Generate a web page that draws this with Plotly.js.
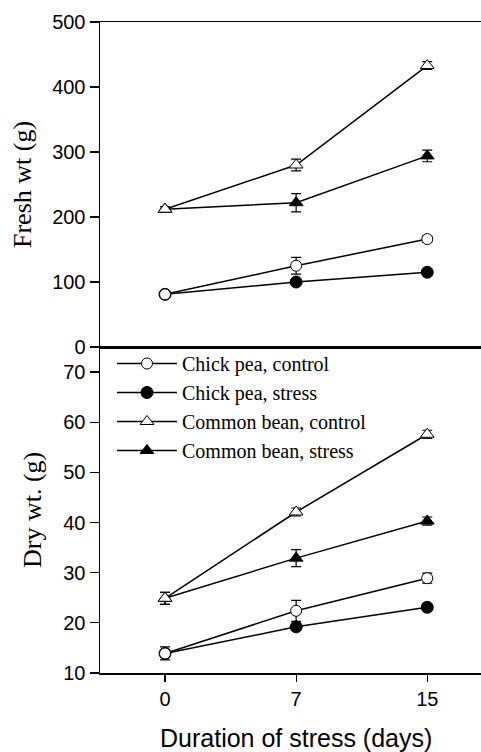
<!DOCTYPE html>
<html><head><meta charset="utf-8">
<script src="https://cdn.plot.ly/plotly-3.0.1.min.js"></script>
<style>html,body{margin:0;padding:0;background:#fff}</style>
</head><body>
<div id="chart" style="width:481px;height:752px"></div>
<script>
var days = ['0', '7', '15'];
var seriesNames = ['Chick pea, control', 'Chick pea, stress', 'Common bean, control', 'Common bean, stress'];
// Fresh weight (g)
var freshCPC = [81, 125, 166];
var freshCPS = [81, 100, 115];
var freshCBC = [212, 280, 433];
var freshCBS = [212, 222, 294];
var freshErrCPC = [3, 13, 5];
var freshErrCPS = [2, 3, 3];
var freshErrCBC = [4, 9, 6];
var freshErrCBS = [4, 14, 9];
// Dry weight (g)
var dryCPC = [13.9, 22.4, 28.9];
var dryCPS = [13.9, 19.2, 23.1];
var dryCBC = [24.9, 42.1, 57.6];
var dryCBS = [24.9, 32.9, 40.3];
var dryErrCPC = [1.3, 2.1, 1.0];
var dryErrCPS = [0.4, 0.4, 0.4];
var dryErrCBC = [1.2, 0.8, 0.8];
var dryErrCBS = [1.2, 1.7, 0.8];

var styles = [
  {symbol: 'circle', color: '#ffffff', size: 11},
  {symbol: 'circle', color: '#000000', size: 12},
  {symbol: 'triangle-up', color: '#ffffff', size: 12},
  {symbol: 'triangle-up', color: '#000000', size: 12}
];
var fresh = [freshCPC, freshCPS, freshCBC, freshCBS];
var freshErr = [freshErrCPC, freshErrCPS, freshErrCBC, freshErrCBS];
var dry = [dryCPC, dryCPS, dryCBC, dryCBS];
var dryErr = [dryErrCPC, dryErrCPS, dryErrCBC, dryErrCBS];

var traces = [];
function mk(y, err, i, xa, ya, show) {
  return {
    x: days, y: y, type: 'scatter', mode: 'lines+markers',
    name: seriesNames[i], showlegend: show, legendrank: i + 1, xaxis: xa, yaxis: ya,
    line: {color: '#000', width: 1.5},
    marker: {symbol: styles[i].symbol, size: styles[i].size, color: styles[i].color,
             line: {color: '#000', width: 1}},
    error_y: {type: 'data', array: err, visible: true, color: '#000', thickness: 1.2, width: 5}
  };
}
// draw stress series first so the open (control) markers sit on top at day 0
var drawOrder = [1, 3, 0, 2];
drawOrder.forEach(function (i) { traces.push(mk(dry[i], dryErr[i], i, 'x', 'y', true)); });
drawOrder.forEach(function (i) { traces.push(mk(fresh[i], freshErr[i], i, 'x2', 'y2', false)); });

var split = (673 - 347) / 651;
var tickFont = {family: 'Liberation Sans, Arial, sans-serif', size: 20, color: '#000'};
var layout = {
  width: 481, height: 752,
  margin: {l: 100, r: 0, t: 22, b: 79, pad: 0},
  paper_bgcolor: '#fff', plot_bgcolor: '#fff',
  showlegend: true,
  legend: {x: (112 - 100) / 381, xanchor: 'left', y: (673 - 344) / 651, yanchor: 'top',
           traceorder: 'normal',
           bgcolor: 'rgba(0,0,0,0)', borderwidth: 0, itemwidth: 60,
           font: {family: 'Liberation Serif, Times New Roman, serif', size: 20, color: '#000'}},
  xaxis: {type: 'category', range: [-0.496, 2.41], domain: [0, 1], anchor: 'y',
          showline: true, linecolor: '#000', linewidth: 1.5, mirror: true,
          ticks: 'outside', ticklen: 7, tickwidth: 1.2, tickcolor: '#000',
          showgrid: false, zeroline: false, tickfont: tickFont},
  yaxis: {range: [10, 75], domain: [0, split], anchor: 'x', tickvals: [10, 20, 30, 40, 50, 60, 70],
          showline: true, linecolor: '#000', linewidth: 1.5,
          ticks: 'outside', ticklen: 9, tickwidth: 1.2, tickcolor: '#000',
          showgrid: false, zeroline: false, tickfont: tickFont},
  xaxis2: {type: 'category', range: [-0.496, 2.41], domain: [0, 1], anchor: 'y2',
           showline: true, linecolor: '#000', linewidth: 1.5, mirror: true,
           ticks: '', showticklabels: false, showgrid: false, zeroline: false},
  yaxis2: {range: [0, 500], domain: [split, 1], anchor: 'x2', tickvals: [0, 100, 200, 300, 400, 500],
           showline: true, linecolor: '#000', linewidth: 1.5,
           ticks: 'outside', ticklen: 9, tickwidth: 1.2, tickcolor: '#000',
           showgrid: false, zeroline: false, tickfont: tickFont},
  annotations: [
    {text: 'Duration of stress (days)', xref: 'paper', yref: 'paper', x: (296 - 100) / 381, y: (673 - 738) / 651,
     xanchor: 'center', yanchor: 'middle', showarrow: false,
     font: {family: 'Liberation Sans, Arial, sans-serif', size: 25, color: '#000'}},
    {text: 'Fresh wt (g)', xref: 'paper', yref: 'paper', x: (23 - 100) / 381, y: (673 - 185) / 651,
     xanchor: 'center', yanchor: 'middle', textangle: -90, showarrow: false,
     font: {family: 'Liberation Serif, Times New Roman, serif', size: 26, color: '#000'}},
    {text: 'Dry wt. (g)', xref: 'paper', yref: 'paper', x: (33 - 100) / 381, y: (673 - 510) / 651,
     xanchor: 'center', yanchor: 'middle', textangle: -90, showarrow: false,
     font: {family: 'Liberation Serif, Times New Roman, serif', size: 26, color: '#000'}}
  ]
};
Plotly.newPlot('chart', traces, layout, {displayModeBar: false, staticPlot: true});
</script>
</body></html>
